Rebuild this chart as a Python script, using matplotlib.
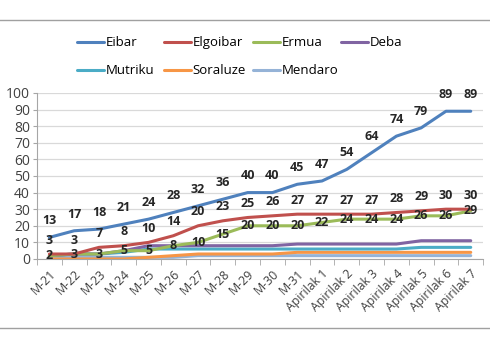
import numpy as np
import matplotlib.pyplot as plt
from matplotlib.lines import Line2D

# categories and series
dates = ['M-21', 'M-22', 'M-23', 'M-24', 'M-25', 'M-26', 'M-27', 'M-28', 'M-29',
         'M-30', 'M-31', 'Apirilak 1', 'Apirilak 2', 'Apirilak 3', 'Apirilak 4',
         'Apirilak 5', 'Apirilak 6', 'Apirilak 7']
eibar = [13, 17, 18, 21, 24, 28, 32, 36, 40, 40, 45, 47, 54, 64, 74, 79, 89, 89]
elgoibar = [3, 3, 7, 8, 10, 14, 20, 23, 25, 26, 27, 27, 27, 27, 28, 29, 30, 30]
ermua = [2, 3, 3, 5, 5, 8, 10, 15, 20, 20, 20, 22, 24, 24, 24, 26, 26, 29]
deba = [2, 3, 3, 5, 8, 8, 8, 8, 8, 8, 9, 9, 9, 9, 9, 11, 11, 11]
mutriku = [2, 3, 3, 4, 6, 6, 6, 6, 6, 6, 6, 6, 6, 6, 6, 7, 7, 7]
soraluze = [0, 0, 0, 0, 1, 2, 3, 3, 3, 3, 4, 4, 4, 4, 4, 4, 4, 4]
mendaro = [1, 1, 1, 1, 1, 1, 2, 2, 2, 2, 2, 2, 2, 2, 2, 2, 2, 2]

plt.rcParams['font.family'] = ['Open Sans', 'DejaVu Sans']

fig = plt.figure(figsize=(4.9, 3.6), dpi=100)
ax = fig.add_axes([0.0755, 0.2806, 0.9105, 0.4611])

x = np.arange(len(dates))
series = [
    ('Eibar', eibar, '#4F81BD'),
    ('Elgoibar', elgoibar, '#C0504D'),
    ('Ermua', ermua, '#9BBB59'),
    ('Deba', deba, '#8064A2'),
    ('Mutriku', mutriku, '#4BACC6'),
    ('Soraluze', soraluze, '#F79646'),
    ('Mendaro', mendaro, '#95B3D7'),
]
handles = {}
for name, vals, col in reversed(series):
    ln, = ax.plot(x, vals, color=col, lw=2.2, solid_capstyle='round')
    handles[name] = ln

# data labels
lab_kw = dict(ha='center', va='center', fontsize=9, fontweight='bold', color='#262626')
for xi, v in zip(x, eibar):
    ax.annotate(str(v), (xi, v), xytext=(0, 12), textcoords='offset points', **lab_kw)
for xi, v in zip(x, elgoibar):
    ax.annotate(str(v), (xi, v), xytext=(0, 10), textcoords='offset points', **lab_kw)
for xi, v in zip(x, ermua):
    ax.annotate(str(v), (xi, v), xytext=(0, 0), textcoords='offset points', **lab_kw)

ax.set_xlim(-0.5, len(dates) - 0.5)
ax.set_ylim(0, 100)
ax.set_yticks(range(0, 101, 10))
ax.tick_params(axis='y', labelsize=10, length=3, color='#a6a6a6', pad=2, labelcolor='#404040')
ax.set_xticks(x)
ax.set_xticklabels(dates, rotation=45, ha='right', rotation_mode='anchor', fontsize=8.8,
                   color='#404040')
ax.tick_params(axis='x', which='major', length=0, pad=6)
ax.set_xticks(np.arange(-0.5, len(dates), 1), minor=True)
ax.tick_params(axis='x', which='minor', length=4, color='#a6a6a6')
ax.grid(axis='y', color='#d9d9d9', lw=0.9)
ax.set_axisbelow(True)
for s in ['top', 'right']:
    ax.spines[s].set_visible(False)
for s in ['left', 'bottom']:
    ax.spines[s].set_color('#a6a6a6')

# legend: one small legend per column, row-major like the reference
columns = [['Eibar', 'Mutriku'], ['Elgoibar', 'Soraluze'], ['Ermua', 'Mendaro'], ['Deba']]
col_x = [78, 165, 254, 342]
for names, px in zip(columns, col_x):
    leg = fig.legend([handles[n] for n in names], names, loc='upper left',
                     bbox_to_anchor=(px / 490 - 0.012, 1 - 31 / 360), frameon=False,
                     fontsize=9.5, handlelength=2.0, handletextpad=0.15,
                     labelspacing=1.15, borderaxespad=0)

# outer border lines
fig.add_artist(Line2D([0, 1], [1 - 20 / 360] * 2, color='#a0a0a0', lw=1))
fig.add_artist(Line2D([0, 1], [1 - 328 / 360] * 2, color='#a0a0a0', lw=1))

fig.savefig('out.png', dpi=100)
